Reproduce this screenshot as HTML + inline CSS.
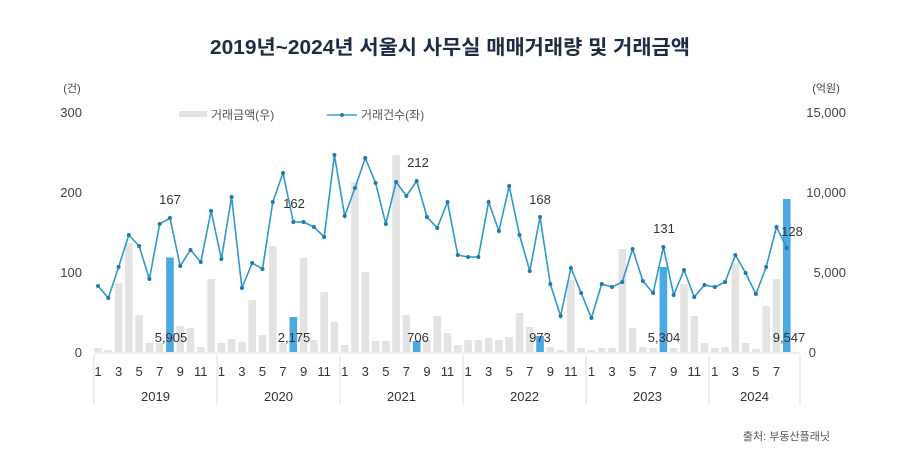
<!DOCTYPE html>
<html><head><meta charset="utf-8"><style>
html,body{margin:0;padding:0;background:#fff;}
svg{display:block;font-family:"Liberation Sans","Noto Sans CJK KR",sans-serif;}
</style></head><body>
<svg id="c" width="900" height="468" viewBox="0 0 900 468" xmlns="http://www.w3.org/2000/svg">
<text x="450" y="54" text-anchor="middle" font-size="20" font-weight="bold" fill="#1d2b45" textLength="480" lengthAdjust="spacingAndGlyphs">2019년~2024년 서울시 사무실 매매거래량 및 거래금액</text>
<text x="72" y="92" font-size="11" fill="#444" text-anchor="middle">(건)</text>
<text x="826" y="92" font-size="11" fill="#444" text-anchor="middle">(억원)</text>
<g font-size="13" fill="#444" text-anchor="end">
<text x="82" y="117">300</text><text x="82" y="197">200</text><text x="82" y="277">100</text><text x="82" y="357">0</text>
</g>
<g font-size="13" fill="#444" text-anchor="end">
<text x="846" y="117">15,000</text><text x="846" y="197">10,000</text><text x="846" y="277">5,000</text><text x="816" y="357">0</text>
</g>
<rect x="179" y="111" width="28" height="6" fill="#e2e2e2"/>
<text x="211" y="119" font-size="12" fill="#555">거래금액(우)</text>
<line x1="327" y1="115" x2="357" y2="115" stroke="#3a9cd0" stroke-width="1.5"/>
<circle cx="342" cy="115" r="2" fill="#1f7fb5"/>
<text x="361" y="119" font-size="12" fill="#555">거래건수(좌)</text>
<g id="bars"></g>
<g id="line"></g>
<g id="ax" stroke="#ddd" stroke-width="1"></g>
<g id="lab" font-size="13" fill="#333" text-anchor="middle"></g>
<text x="830" y="440" font-size="11" fill="#555" text-anchor="end">출처: 부동산플래닛</text>
</svg>
<script>
var ly=[286,298,267,235,246,279,224,218,266,250,262,211,
259,197,288,263,269,202,173,222,222,227,237,155,
216,188,158,183,224,182,196,181,217,228,202,255,
257,257,202,231,186,235,271,217,284,316,268,293,
318,284,287,282,249,281,293,247,295,270,297,285,
287,282,255,273,294,267,227,248];
var bt=[348,350,283,243,315,343,343,257.5,326,328,347,279,
343,339,342,300,335,246,343,317,258,340,292,322,
345,182,272,341,341,155,315,341,340,316,333,345,
340,340,338,340,337,313,327,336,347,350,280,348,
350,348,348,249,328,347,348,267,348,284,316,343,
348,347,263,343,349,306,279,199];
var NS="http://www.w3.org/2000/svg";
function el(t,a,p,txt){var e=document.createElementNS(NS,t);for(var k in a)e.setAttribute(k,a[k]);if(txt!==undefined)e.textContent=txt;document.getElementById(p).appendChild(e);return e;}
function X(i){return 98+10.28*i;}
var blue=[7,19,31,43,55,67];
for(var i=0;i<68;i++){var b=blue.indexOf(i)>=0;el('rect',{x:X(i)-3.8,y:bt[i],width:7.6,height:352-bt[i],fill:b?'#4aa8e2':'#e3e3e3'},'bars');}
var pts=ly.map(function(y,i){return X(i).toFixed(1)+','+y}).join(' ');
el('polyline',{points:pts,fill:'none',stroke:'#2f98cc','stroke-width':1.6},'line');
for(var i=0;i<68;i++)el('circle',{cx:X(i),cy:ly[i],r:2,fill:'#1e79ad'},'line');
var sx=[94,217,340,463,586,709];
sx.forEach(function(x){el('line',{x1:x,y1:355,x2:x,y2:405},'ax');});
el('line',{x1:800,y1:355,x2:800,y2:405},'ax');
el('line',{x1:94,y1:353,x2:800,y2:353},'ax');
for(var i=0;i<68;i+=2)el('text',{x:X(i),y:376},'lab',String(i%12+1));
var yrs=['2019','2020','2021','2022','2023','2024'];
for(var k=0;k<6;k++){var c=k<5?(sx[k]+sx[k]+123)/2:(709+800)/2;el('text',{x:c,y:401},'lab',yrs[k]);}
var tl=[['167',170,204],['162',294,208],['212',418,167],['168',540,204],['131',664,233],['128',792,236],
['5,905',171,342],['2,175',294,342],['706',418,342],['973',540,342],['5,304',664,342],['9,547',789,342]];
tl.forEach(function(t){el('text',{x:t[1],y:t[2]},'lab',t[0]);});
</script>
</body></html>
